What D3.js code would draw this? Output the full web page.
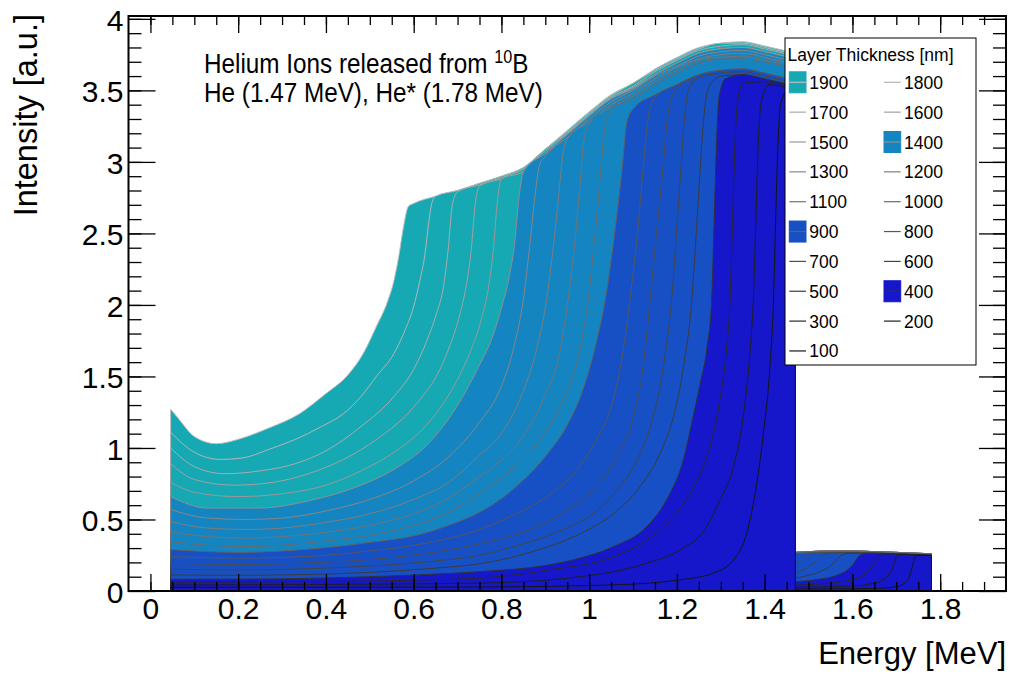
<!DOCTYPE html>
<html><head><meta charset="utf-8">
<script src="https://cdn.jsdelivr.net/npm/d3@7/dist/d3.min.js"></script>
<style>
body{margin:0;background:#fff}
svg{display:block}
text{font-family:"Liberation Sans",Arial,Helvetica,sans-serif;fill:#000}
</style>
</head><body>
<svg id="c" width="1016" height="675"></svg>
<script>
// ---------------- data ----------------
const thicknesses = [1900,1800,1700,1600,1500,1400,1300,1200,1100,1000,900,800,700,600,500,400,300,200,100];
const legendFilled = [1900,1400,900,400];
const xTickLabels = ["0","0.2","0.4","0.6","0.8","1","1.2","1.4","1.6","1.8"];
const yTickLabels = ["0","0.5","1","1.5","2","2.5","3","3.5","4"];

// main (He 1.47 MeV) part of each histogram: [energy MeV, intensity]
const main1900 = [[0.046,1.27],[0.06,1.22],[0.10,1.08],[0.15,1.03],[0.21,1.07],[0.27,1.14],[0.34,1.24],[0.40,1.38],[0.45,1.51],[0.485,1.66],[0.515,1.85],[0.54,2.02],[0.555,2.17],[0.566,2.34],[0.577,2.55],[0.588,2.69],[0.60,2.71],[0.65,2.76],[0.70,2.80],[0.75,2.85],[0.80,2.90],[0.85,2.96],[0.90,3.09],[0.95,3.22],[1.00,3.35],[1.05,3.47],[1.10,3.55],[1.15,3.65],[1.20,3.73],[1.25,3.80],[1.30,3.83],[1.35,3.84],[1.40,3.81],[1.47,3.76]];
const main1800 = [[0.046,1.11],[0.10,0.97],[0.16,0.92],[0.21,0.93],[0.27,0.99],[0.33,1.06],[0.39,1.15],[0.44,1.24],[0.48,1.36],[0.515,1.50],[0.555,1.66],[0.577,1.80],[0.60,1.99],[0.614,2.17],[0.626,2.36],[0.634,2.57],[0.642,2.72],[0.65,2.76],[0.70,2.80],[0.75,2.85],[0.80,2.90],[0.85,2.96],[0.90,3.09],[0.95,3.21],[1.00,3.34],[1.05,3.46],[1.10,3.55],[1.15,3.64],[1.20,3.72],[1.25,3.79],[1.30,3.83],[1.35,3.83],[1.40,3.80],[1.47,3.75]];
const main1700 = [[0.046,1.00],[0.10,0.87],[0.17,0.82],[0.25,0.84],[0.33,0.89],[0.40,0.98],[0.48,1.15],[0.555,1.36],[0.60,1.55],[0.63,1.75],[0.652,1.94],[0.668,2.13],[0.679,2.40],[0.688,2.70],[0.70,2.79],[0.75,2.84],[0.80,2.89],[0.85,2.95],[0.90,3.08],[0.95,3.20],[1.00,3.33],[1.05,3.45],[1.10,3.53],[1.15,3.63],[1.20,3.71],[1.25,3.78],[1.30,3.81],[1.35,3.82],[1.40,3.79],[1.47,3.74]];
const main1600 = [[0.046,0.89],[0.10,0.78],[0.19,0.74],[0.28,0.76],[0.36,0.82],[0.44,0.92],[0.52,1.07],[0.58,1.22],[0.62,1.36],[0.655,1.52],[0.683,1.72],[0.705,1.93],[0.72,2.14],[0.731,2.38],[0.74,2.70],[0.75,2.83],[0.80,2.88],[0.85,2.93],[0.90,3.06],[0.95,3.19],[1.00,3.32],[1.05,3.44],[1.10,3.52],[1.15,3.61],[1.20,3.69],[1.25,3.76],[1.30,3.79],[1.35,3.80],[1.40,3.77],[1.47,3.72]];
const main1500 = [[0.046,0.76],[0.10,0.69],[0.20,0.66],[0.30,0.68],[0.40,0.74],[0.48,0.84],[0.56,0.98],[0.62,1.13],[0.665,1.30],[0.70,1.48],[0.73,1.68],[0.755,1.91],[0.772,2.15],[0.782,2.40],[0.79,2.70],[0.80,2.88],[0.85,2.93],[0.90,3.06],[0.95,3.19],[1.00,3.32],[1.05,3.44],[1.10,3.52],[1.15,3.61],[1.20,3.69],[1.25,3.76],[1.30,3.79],[1.35,3.80],[1.40,3.77],[1.47,3.72]];
const main1400 = [[0.046,0.66],[0.13,0.58],[0.25,0.58],[0.36,0.63],[0.48,0.74],[0.555,0.85],[0.63,1.02],[0.69,1.25],[0.75,1.58],[0.78,1.78],[0.80,1.98],[0.818,2.20],[0.83,2.43],[0.84,2.75],[0.85,2.93],[0.90,3.06],[0.95,3.19],[1.00,3.32],[1.05,3.44],[1.10,3.51],[1.15,3.61],[1.20,3.69],[1.25,3.76],[1.30,3.79],[1.35,3.80],[1.40,3.77],[1.47,3.72]];
const main1300 = [[0.046,0.57],[0.13,0.51],[0.22,0.50],[0.30,0.51],[0.40,0.56],[0.50,0.64],[0.60,0.77],[0.68,0.94],[0.75,1.18],[0.797,1.41],[0.827,1.69],[0.85,2.04],[0.864,2.40],[0.876,2.75],[0.887,2.98],[0.90,3.04],[0.95,3.17],[1.00,3.30],[1.05,3.42],[1.10,3.50],[1.15,3.60],[1.20,3.67],[1.25,3.74],[1.30,3.77],[1.35,3.78],[1.40,3.75],[1.47,3.70]];
const main1200 = [[0.046,0.485],[0.13,0.44],[0.22,0.43],[0.30,0.44],[0.40,0.48],[0.50,0.54],[0.60,0.64],[0.68,0.76],[0.75,0.95],[0.797,1.09],[0.842,1.34],[0.88,1.69],[0.903,2.04],[0.918,2.40],[0.93,2.75],[0.94,3.05],[0.95,3.16],[1.00,3.28],[1.05,3.40],[1.10,3.48],[1.15,3.58],[1.20,3.66],[1.25,3.72],[1.30,3.75],[1.35,3.76],[1.40,3.73],[1.47,3.68]];
const main1100 = [[0.046,0.415],[0.13,0.38],[0.22,0.37],[0.30,0.38],[0.40,0.41],[0.50,0.46],[0.60,0.54],[0.68,0.65],[0.75,0.80],[0.79,0.89],[0.842,1.05],[0.895,1.34],[0.934,1.69],[0.952,2.04],[0.966,2.40],[0.978,2.80],[0.988,3.15],[1.00,3.27],[1.05,3.38],[1.10,3.46],[1.15,3.56],[1.20,3.64],[1.25,3.71],[1.30,3.73],[1.35,3.74],[1.40,3.71],[1.47,3.67]];
const main1000 = [[0.046,0.345],[0.13,0.32],[0.22,0.31],[0.30,0.32],[0.40,0.35],[0.50,0.39],[0.60,0.46],[0.68,0.55],[0.75,0.68],[0.827,0.86],[0.888,1.06],[0.941,1.34],[0.979,1.69],[0.998,2.04],[1.012,2.45],[1.024,2.85],[1.034,3.20],[1.05,3.37],[1.10,3.44],[1.15,3.54],[1.20,3.62],[1.25,3.69],[1.30,3.72],[1.35,3.72],[1.40,3.70],[1.47,3.65]];
const main900 = [[0.046,0.29],[0.20,0.27],[0.35,0.29],[0.50,0.34],[0.62,0.40],[0.68,0.46],[0.75,0.55],[0.83,0.72],[0.90,0.94],[0.95,1.16],[0.98,1.36],[1.01,1.66],[1.04,2.10],[1.06,2.55],[1.075,2.95],[1.086,3.28],[1.10,3.37],[1.15,3.47],[1.20,3.54],[1.25,3.61],[1.30,3.64],[1.35,3.65],[1.40,3.62],[1.47,3.57]];
const main800 = [[0.046,0.24],[0.20,0.23],[0.35,0.24],[0.50,0.28],[0.62,0.33],[0.75,0.43],[0.827,0.53],[0.903,0.66],[0.964,0.82],[1.017,1.06],[1.055,1.34],[1.078,1.69],[1.093,2.04],[1.11,2.50],[1.123,2.95],[1.134,3.30],[1.15,3.45],[1.20,3.54],[1.25,3.61],[1.30,3.64],[1.35,3.65],[1.40,3.62],[1.47,3.57]];
const main700 = [[0.046,0.193],[0.20,0.185],[0.35,0.195],[0.50,0.22],[0.62,0.26],[0.75,0.33],[0.865,0.43],[0.941,0.55],[1.009,0.71],[1.063,0.94],[1.101,1.22],[1.123,1.57],[1.139,2.04],[1.155,2.55],[1.168,2.95],[1.178,3.30],[1.19,3.47],[1.20,3.52],[1.25,3.59],[1.30,3.62],[1.35,3.63],[1.40,3.60],[1.47,3.55]];
const main600 = [[0.046,0.152],[0.20,0.148],[0.35,0.155],[0.50,0.175],[0.65,0.21],[0.75,0.25],[0.827,0.31],[0.941,0.43],[1.009,0.54],[1.07,0.73],[1.116,0.96],[1.146,1.22],[1.169,1.57],[1.188,2.04],[1.20,2.55],[1.209,2.95],[1.217,3.30],[1.228,3.52],[1.25,3.59],[1.30,3.62],[1.35,3.63],[1.40,3.60],[1.47,3.55]];
const main500 = [[0.046,0.112],[0.20,0.11],[0.35,0.115],[0.50,0.13],[0.65,0.16],[0.75,0.19],[0.865,0.27],[0.979,0.40],[1.055,0.54],[1.116,0.73],[1.161,0.96],[1.192,1.22],[1.215,1.57],[1.234,2.04],[1.245,2.55],[1.253,2.95],[1.261,3.30],[1.272,3.52],[1.30,3.60],[1.35,3.61],[1.40,3.58],[1.47,3.53]];
const main400 = [[0.046,0.082],[0.20,0.083],[0.35,0.088],[0.50,0.10],[0.65,0.118],[0.75,0.135],[0.903,0.18],[0.979,0.23],[1.055,0.31],[1.131,0.45],[1.177,0.64],[1.215,0.92],[1.237,1.22],[1.253,1.45],[1.268,1.69],[1.279,2.03],[1.285,2.60],[1.29,3.10],[1.296,3.45],[1.31,3.58],[1.35,3.61],[1.40,3.58],[1.47,3.53]];
const main300 = [[0.046,0.061],[0.30,0.064],[0.50,0.07],[0.75,0.09],[0.903,0.145],[1.055,0.24],[1.131,0.357],[1.192,0.52],[1.23,0.683],[1.26,0.87],[1.283,1.10],[1.298,1.34],[1.313,1.69],[1.321,2.03],[1.327,2.60],[1.332,3.10],[1.338,3.42],[1.35,3.55],[1.40,3.56],[1.47,3.52]];
const main200 = [[0.046,0.042],[0.30,0.044],[0.50,0.048],[0.75,0.055],[0.979,0.10],[1.131,0.194],[1.207,0.287],[1.268,0.45],[1.298,0.636],[1.329,0.87],[1.351,1.22],[1.367,1.69],[1.374,2.03],[1.38,2.60],[1.385,3.10],[1.392,3.42],[1.41,3.54],[1.47,3.50]];
const main100 = [[0.046,0.026],[0.40,0.026],[0.75,0.028],[1.055,0.043],[1.207,0.078],[1.283,0.125],[1.329,0.218],[1.359,0.404],[1.382,0.753],[1.397,1.10],[1.412,1.57],[1.42,2.03],[1.425,2.60],[1.43,3.10],[1.436,3.40],[1.448,3.48],[1.47,3.46]];

// tail (He* 1.78 MeV) part of each histogram
const tailThick = [[1.47,0.27],[1.50,0.275],[1.55,0.28],[1.60,0.28],[1.65,0.275],[1.70,0.27],[1.74,0.265],[1.78,0.26]];
const tailMid = [[1.47,0.262],[1.50,0.267],[1.55,0.27],[1.60,0.27],[1.65,0.266],[1.70,0.261],[1.74,0.257],[1.78,0.252]];
const tail700 = [[1.47,0.19],[1.48,0.205],[1.49,0.23],[1.50,0.25],[1.51,0.264],[1.55,0.269],[1.60,0.269],[1.65,0.265],[1.70,0.26],[1.74,0.256],[1.78,0.251]];
const tail600 = [[1.47,0.125],[1.485,0.145],[1.50,0.17],[1.515,0.20],[1.527,0.235],[1.536,0.258],[1.55,0.266],[1.60,0.268],[1.65,0.265],[1.70,0.26],[1.74,0.256],[1.78,0.251]];
const tail500 = [[1.47,0.09],[1.50,0.11],[1.53,0.14],[1.55,0.175],[1.565,0.22],[1.576,0.252],[1.59,0.264],[1.65,0.264],[1.70,0.259],[1.74,0.255],[1.78,0.25]];
const tail400 = [[1.47,0.065],[1.52,0.08],[1.56,0.105],[1.585,0.14],[1.60,0.18],[1.61,0.225],[1.618,0.252],[1.63,0.262],[1.65,0.263],[1.70,0.258],[1.74,0.254],[1.78,0.249]];
const tail300 = [[1.47,0.042],[1.55,0.055],[1.60,0.08],[1.625,0.11],[1.64,0.15],[1.65,0.20],[1.657,0.243],[1.67,0.259],[1.70,0.258],[1.74,0.254],[1.78,0.249]];
const tail200 = [[1.47,0.026],[1.60,0.035],[1.65,0.055],[1.675,0.09],[1.688,0.14],[1.696,0.20],[1.701,0.243],[1.71,0.255],[1.74,0.253],[1.78,0.248]];
const tail100 = [[1.47,0.014],[1.65,0.018],[1.70,0.03],[1.72,0.06],[1.732,0.12],[1.739,0.20],[1.744,0.243],[1.755,0.25],[1.78,0.248]];

// ---------------- styles ----------------
const groupFill = {1900:"#17a9b3",1400:"#1585c2",900:"#1650c4",400:"#1616ca"};
function fillOf(t){ return t>=1500?groupFill[1900]:t>=1000?groupFill[1400]:t>=500?groupFill[900]:groupFill[400]; }
function lineOf(t){ const g=Math.round(22+(t-100)/1800*168); return d3.rgb(g,g,g).formatHex(); }

const mains = {1900:main1900,1800:main1800,1700:main1700,1600:main1600,1500:main1500,1400:main1400,1300:main1300,1200:main1200,1100:main1100,1000:main1000,900:main900,800:main800,700:main700,600:main600,500:main500,400:main400,300:main300,200:main200,100:main100};
const tails = {1900:tailThick,1800:tailThick,1700:tailThick,1600:tailThick,1500:tailThick,1400:tailThick,1300:tailThick,1200:tailThick,1100:tailThick,1000:tailThick,900:tailMid,800:tailMid,700:tail700,600:tail600,500:tail500,400:tail400,300:tail300,200:tail200,100:tail100};

// ---------------- chart ----------------
const svg = d3.select("#c");
const L=128.5, R=1006, T=16, B=591;
const x = d3.scaleLinear().domain([-0.05,1.95]).range([L,R]);
const y = d3.scaleLinear().domain([0,4.02]).range([B,T]);

svg.append("defs").append("clipPath").attr("id","plotclip")
  .append("rect").attr("x",L).attr("y",T).attr("width",R-L).attr("height",B-T);

const area = d3.area().x(d=>x(d[0])).y0(y(0)).y1(d=>y(d[1])).curve(d3.curveMonotoneX);
const gH = svg.append("g").attr("clip-path","url(#plotclip)");
thicknesses.forEach(t=>{
  [mains[t], tails[t]].forEach(arr=>{
    gH.append("path").attr("d",area(arr))
      .attr("fill",fillOf(t)).attr("stroke",lineOf(t)).attr("stroke-width",1)
      .attr("stroke-linejoin","miter");
  });
});

// axes (ticks inside, ROOT style)
const xMajor = xTickLabels.map(Number);
const yMajor = yTickLabels.map(Number);
const xMinor = d3.range(-1,40).map(i=>i*0.05).filter(v=>v>-0.05&&v<1.95);
const yMinor = d3.range(1,41).map(i=>i*0.1).filter(v=>v<4.02);

function styleAxis(g, fs){
  g.select(".domain").remove();
  g.selectAll("line").attr("stroke","#000").attr("stroke-width",1.3);
  g.selectAll("text").style("font-size",fs+"px").style("font-family","'Liberation Sans',Arial,sans-serif").attr("fill","#000");
}
const labX = (v)=>xTickLabels[xMajor.indexOf(v)];
const labY = (v)=>yTickLabels[yMajor.indexOf(v)];

svg.append("g").attr("transform",`translate(0,${B})`)
  .call(d3.axisBottom(x).tickValues(xMinor).tickSize(-9).tickFormat(""))
  .call(g=>styleAxis(g,30));
svg.append("g").attr("transform",`translate(0,${B})`)
  .call(d3.axisBottom(x).tickValues(xMajor).tickSizeInner(-17).tickSizeOuter(0).tickPadding(7).tickFormat(labX))
  .call(g=>styleAxis(g,30));
svg.append("g").attr("transform",`translate(0,${T})`)
  .call(d3.axisTop(x).tickValues(xMinor).tickSize(-9).tickFormat(""))
  .call(g=>styleAxis(g,30));
svg.append("g").attr("transform",`translate(0,${T})`)
  .call(d3.axisTop(x).tickValues(xMajor).tickSize(-17).tickFormat(""))
  .call(g=>styleAxis(g,30));

svg.append("g").attr("transform",`translate(${L},0)`)
  .call(d3.axisLeft(y).tickValues(yMinor).tickSize(-13).tickFormat(""))
  .call(g=>styleAxis(g,30));
svg.append("g").attr("transform",`translate(${L},0)`)
  .call(d3.axisLeft(y).tickValues(yMajor).tickSizeInner(-27).tickSizeOuter(0).tickPadding(5).tickFormat(labY))
  .call(g=>{styleAxis(g,30); g.selectAll("text").attr("dy","0.38em");});
svg.append("g").attr("transform",`translate(${R},0)`)
  .call(d3.axisRight(y).tickValues(yMinor).tickSize(-13).tickFormat(""))
  .call(g=>styleAxis(g,30));
svg.append("g").attr("transform",`translate(${R},0)`)
  .call(d3.axisRight(y).tickValues(yMajor).tickSize(-27).tickFormat(""))
  .call(g=>styleAxis(g,30));

// frame
svg.append("rect").attr("x",L).attr("y",T).attr("width",R-L).attr("height",B-T)
  .attr("fill","none").attr("stroke","#000").attr("stroke-width",2);

// axis titles
svg.append("text").attr("x",1006).attr("y",664).attr("text-anchor","end")
  .style("font-size","31px").text("Energy [MeV]");
svg.append("text").attr("transform","translate(37,14) rotate(-90)").attr("text-anchor","end")
  .style("font-size","32.5px").text("Intensity [a.u.]");

// annotation
const a1 = svg.append("text").attr("transform","translate(204,73.3) scale(0.9,1)").style("font-size","27px");
a1.append("tspan").text("Helium Ions released from ");
a1.append("tspan").attr("dy",-10).style("font-size","18px").text("10");
a1.append("tspan").attr("dy",10).text("B");
svg.append("text").attr("transform","translate(204,102.3) scale(0.9,1)").style("font-size","27px")
  .text("He (1.47 MeV), He* (1.78 MeV)");

// legend
const lg = svg.append("g");
lg.append("rect").attr("x",785).attr("y",38).attr("width",191).attr("height",327)
  .attr("fill","#fff").attr("stroke","#000").attr("stroke-width",1);
lg.append("text").attr("x",787.5).attr("y",60.7).style("font-size","17.5px").text("Layer Thickness [nm]");
thicknesses.forEach((t,i)=>{
  const col=i%2, row=Math.floor(i/2);
  const cy=82.3+row*29.85;
  const sx=col?884:789.3, tx=col?904:809.3;
  if(legendFilled.includes(t)){
    lg.append("rect").attr("x",sx).attr("y",cy-10.5).attr("width",16.7).attr("height",21)
      .attr("fill",fillOf(t)).attr("stroke",fillOf(t));
  }
  lg.append("line").attr("x1",sx).attr("x2",sx+16.7).attr("y1",cy).attr("y2",cy)
    .attr("stroke",lineOf(t)).attr("stroke-width",1.2);
  lg.append("text").attr("x",tx).attr("y",cy+6.5).style("font-size","17.5px").text(t);
});
</script>
</body></html>
